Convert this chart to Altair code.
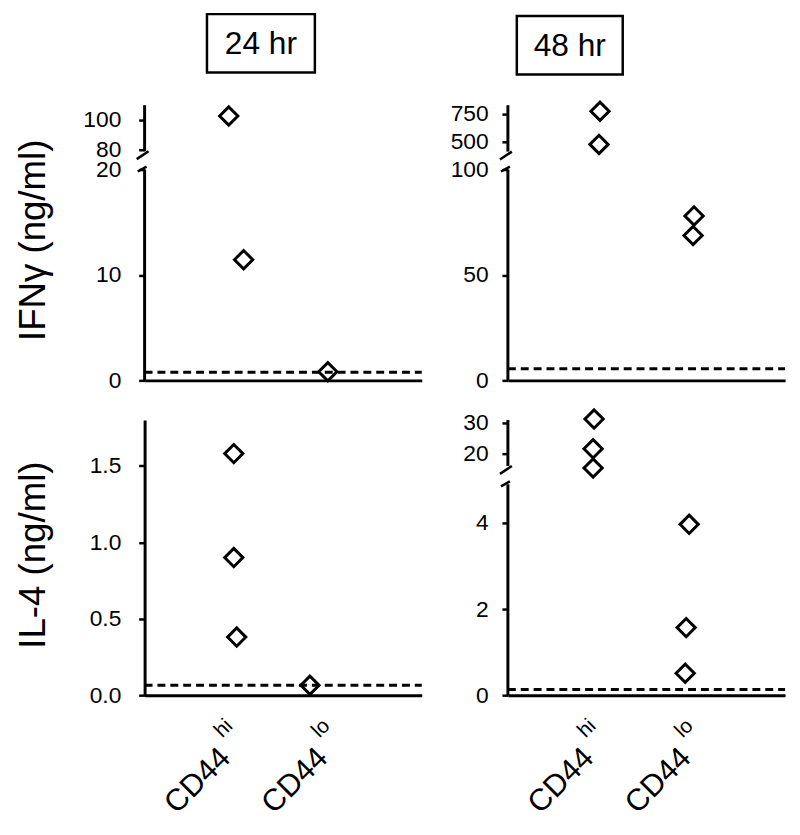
import altair as alt
import pandas as pd

FONT = "Liberation Sans"

# ---------------- data ----------------
categories = ["CD44hi", "CD44lo"]
cat_index = {"CD44hi": 1, "CD44lo": 2}
cat_main = ["CD44", "CD44"]
cat_sup = ["hi", "lo"]
times = ["24 hr", "48 hr"]

# IFN-gamma, 24 hr
ifng24_group = ["CD44hi", "CD44hi", "CD44lo"]
ifng24_value = [102.7, 11.45, 0.82]
ifng24_jitter = [-0.135, 0.018, -0.116]
ifng24_limit = 0.78

# IFN-gamma, 48 hr
ifng48_group = ["CD44hi", "CD44hi", "CD44lo", "CD44lo"]
ifng48_value = [775, 475, 78, 68.7]
ifng48_jitter = [-0.053, -0.063, -0.086, -0.096]
ifng48_limit = 5.5

# IL-4, 24 hr
il4_24_group = ["CD44hi", "CD44hi", "CD44hi", "CD44lo"]
il4_24_value = [1.58, 0.90, 0.38, 0.065]
il4_24_jitter = [-0.083, -0.083, -0.053, -0.30]
il4_24_limit = 0.065

# IL-4, 48 hr
il4_48_group = ["CD44hi", "CD44hi", "CD44hi", "CD44lo", "CD44lo", "CD44lo"]
il4_48_value = [31.3, 21.6, 15.2, 3.97, 1.57, 0.51]
il4_48_jitter = [-0.114, -0.124, -0.124, -0.136, -0.167, -0.177]
il4_48_limit = 0.13

# ---------------- layout constants ----------------
W, H = 280, 278
XDOM = [0, 2.85]
xscale = alt.Scale(domain=XDOM, nice=False, zero=False)
xaxis = alt.Axis(domain=True, domainWidth=3, domainColor="black", ticks=False,
                 labels=False, grid=False, title=None)


def panel(groups, values, jitter, limit, ydom, yrange, ticks, fmt,
          ytitle=None, breaks=None, label_pad=18, bottom=False,
          time_label=None, box=None):
    df = pd.DataFrame({"group": groups, "value": values, "jitter": jitter})
    df["pos"] = df["group"].map(cat_index) + df["jitter"]
    yscale = alt.Scale(domain=ydom, range=yrange, nice=False, zero=False)
    axis_kw = dict(values=ticks, format=fmt, domain=breaks is None,
                   domainWidth=3, domainColor="black",
                   ticks=True, tickSize=6, tickWidth=2.5, tickColor="black",
                   labelFontSize=23, labelFont=FONT, labelColor="black",
                   labelPadding=label_pad, labelOverlap=False, grid=False)
    if ytitle:
        axis_kw.update(title=ytitle, titleFont=FONT, titleFontSize=37,
                       titleFontWeight="normal", titleColor="black",
                       titleX=-112, titleY=136, titleAngle=270,
                       titleAlign="center", titleBaseline="middle")
    else:
        axis_kw.update(title=None)
    yaxis = alt.Axis(**axis_kw)

    def Y(field):
        return alt.Y(field, scale=yscale, axis=yaxis)

    def X(field):
        return alt.X(field, scale=xscale, axis=xaxis)

    layers = []
    # detection-limit dashed line
    ldf = pd.DataFrame({"limit": [limit]})
    layers.append(
        alt.Chart(ldf).mark_rule(strokeDash=[8, 5], strokeWidth=3, color="black")
        .encode(y=Y("limit:Q"), x=alt.value(0), x2=alt.value(W))
    )
    # points
    layers.append(
        alt.Chart(df).mark_point(shape="diamond", filled=False, size=340,
                                 strokeWidth=3, color="black", opacity=1)
        .encode(x=X("pos:Q"), y=Y("value:Q"))
    )
    if breaks is not None:
        lo_top, up_bot, up_top = breaks
        sdf = pd.DataFrame({"y0": [ydom[0], up_bot], "y1": [lo_top, up_top]})
        layers.append(
            alt.Chart(sdf).mark_rule(strokeWidth=3, color="black")
            .encode(x=alt.value(0), y=Y("y0:Q"), y2="y1:Q")
        )
        # slash at bottom of the upper segment
        b1 = pd.DataFrame({"v": [up_bot]})
        layers.append(
            alt.Chart(b1).mark_rule(strokeWidth=2.5, color="black",
                                    yOffset=0, y2Offset=8)
            .encode(x=alt.value(4), x2=alt.value(-8), y=Y("v:Q"), y2="v:Q")
        )
        # slash at top of the lower segment
        b2 = pd.DataFrame({"v": [lo_top]})
        layers.append(
            alt.Chart(b2).mark_rule(strokeWidth=2.5, color="black",
                                    yOffset=-3, y2Offset=2)
            .encode(x=alt.value(2), x2=alt.value(-7), y=Y("v:Q"), y2="v:Q")
        )
    if bottom:
        lab = pd.DataFrame({"pos": [cat_index[c] for c in categories],
                            "main": cat_main, "sup": cat_sup})
        layers.append(
            alt.Chart(lab).mark_text(angle=315, align="right", baseline="alphabetic",
                                     fontSize=31, font=FONT, color="black",
                                     dx=-53, dy=39)
            .encode(x=X("pos:Q"), y=alt.value(H), text="main:N")
        )
        layers.append(
            alt.Chart(lab).mark_text(angle=315, align="left", baseline="alphabetic",
                                     fontSize=21, font=FONT, color="black",
                                     dx=-45, dy=17)
            .encode(x=X("pos:Q"), y=alt.value(H), text="sup:N")
        )
    if time_label is not None:
        x1, x2, y1, y2 = box
        tdf = pd.DataFrame({"t": [time_label]})
        layers.append(
            alt.Chart(tdf).mark_rect(color="black", fillOpacity=0, stroke="black",
                                     strokeWidth=2.5)
            .encode(x=alt.value(x1), x2=alt.value(x2),
                    y=alt.value(y1), y2=alt.value(y2))
        )
        layers.append(
            alt.Chart(tdf).mark_text(fontSize=32, font=FONT, color="black",
                                     align="center", baseline="middle")
            .encode(x=alt.value((x1 + x2) / 2), y=alt.value((y1 + y2) / 2 + 1),
                    text="t:N")
        )
    return alt.layer(*layers).properties(width=W, height=H)


TL = panel(ifng24_group, ifng24_value, ifng24_jitter, ifng24_limit,
           [0, 20, 78, 110], [H, 65, 48, 0], [0, 10, 20, 80, 100], "d",
           ytitle="IFNγ (ng/ml)", breaks=(20, 79, 110), label_pad=18,
           time_label=times[0], box=(63, 172, -92, -33))
TR = panel(ifng48_group, ifng48_value, ifng48_jitter, ifng48_limit,
           [0, 100, 400, 830], [H, 65, 48, 0], [0, 50, 100, 500, 750], "d",
           breaks=(100, 410, 830), label_pad=14,
           time_label=times[1], box=(9, 116, -90, -31))
BL = panel(il4_24_group, il4_24_value, il4_24_jitter, il4_24_limit,
           [0, 1.8], [H, 0], [0, 0.5, 1.0, 1.5], ".1f",
           ytitle="IL-4 (ng/ml)", label_pad=18, bottom=True)
BR = panel(il4_48_group, il4_48_value, il4_48_jitter, il4_48_limit,
           [0, 4.9, 15.5, 31], [H, 65, 48, 0], [0, 2, 4, 20, 30], "d",
           breaks=(4.9, 16.0, 31), label_pad=14, bottom=True)

chart = (
    alt.concat(TL, TR, BL, BR, columns=2)
    .properties(spacing={"row": 40, "column": 87}, bounds="flush",
                padding={"left": 7, "top": 0, "right": 5, "bottom": 5})
    .configure_view(strokeWidth=0)
)

chart.save("out.html", embed_options={"renderer": "svg", "actions": False})
